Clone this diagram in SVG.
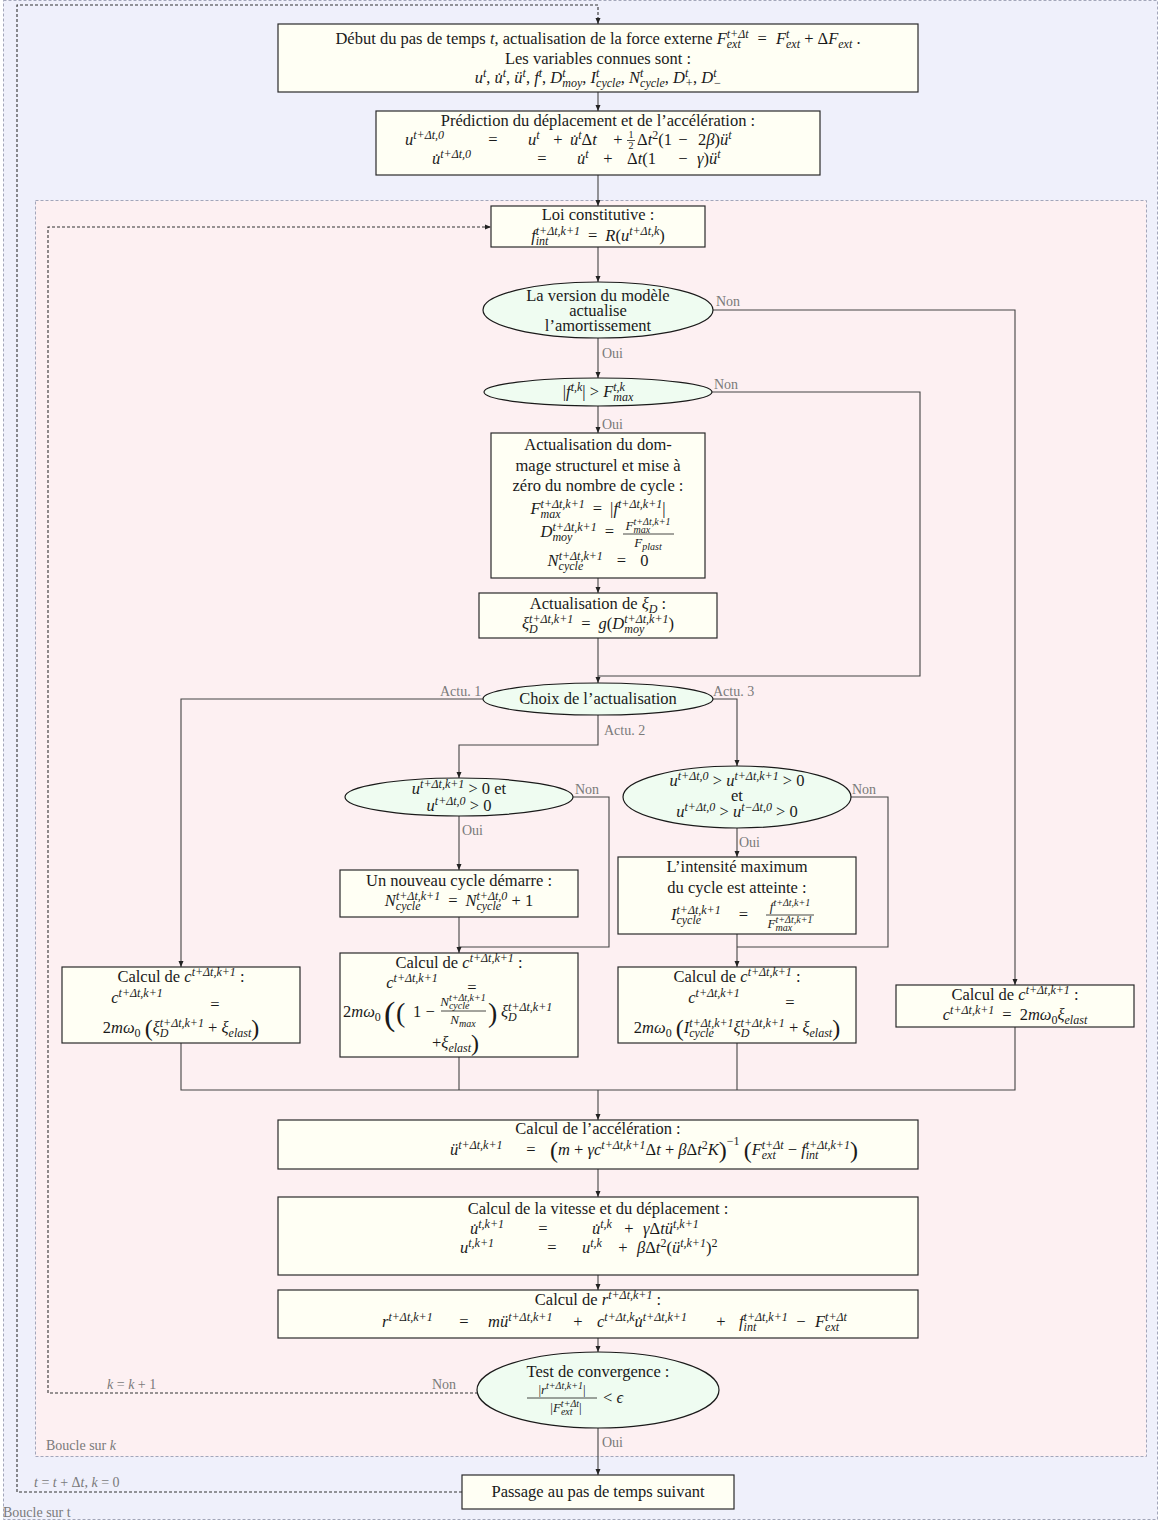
<svg xmlns="http://www.w3.org/2000/svg" width="1160" height="1521" viewBox="0 0 1160 1521">
<defs>
<style>
text{font-family:"Liberation Serif","DejaVu Serif",serif;font-size:16.5px;fill:#1a1a1a;text-anchor:middle}
.st{text-anchor:start}
.en{text-anchor:end}
.i{font-style:italic}
.p{font-size:12px;font-style:italic;baseline-shift:6px}
.s{font-size:12px;font-style:italic;baseline-shift:-4px}
.pu{font-size:12px;font-style:normal;baseline-shift:6px}
.su{font-size:12px;font-style:normal;baseline-shift:-4px}
.sm{font-size:13px}
.fp{font-size:10px;font-style:italic;baseline-shift:5px}
.fs{font-size:10px;font-style:italic;baseline-shift:-3px}
.bp{font-size:24px;font-style:normal;baseline-shift:-3px}
.lb{font-size:14px;fill:#7a7a7a;text-anchor:start}
.reg{fill:#eff0fb;stroke:#a3a6ba;stroke-width:1;stroke-dasharray:3 2}
.regk{fill:#fdf0f2;stroke:#a3a6ba;stroke-width:1;stroke-dasharray:3 2}
.box{fill:#fffff4;stroke:#2a2a2a;stroke-width:1.2}
.ell{fill:#effcf1;stroke:#1a1a1a;stroke-width:1.2}
.c{fill:none;stroke:#444;stroke-width:1.1}
.ca{fill:none;stroke:#444;stroke-width:1.1;marker-end:url(#ah)}
.dl{fill:none;stroke:#333;stroke-width:1.1;stroke-dasharray:3 2;marker-end:url(#ah)}
.fb{stroke:#1a1a1a;stroke-width:0.8}
</style>
<marker id="ah" markerUnits="userSpaceOnUse" markerWidth="6" markerHeight="6" viewBox="0 0 6 6" refX="6" refY="3" orient="auto"><path d="M0,0.5 L6,3 L0,5.5 z" fill="#222"/></marker>
</defs>

<g id="regions">
<rect class="reg" x="3.5" y="0.5" width="1154" height="1519"/>
<text class="lb" x="3" y="1517">Boucle sur t</text>
<rect class="regk" x="35.5" y="200.5" width="1111" height="1256"/>
<text class="lb" x="46" y="1450">Boucle sur <tspan class="i">k</tspan></text>
</g>

<g id="connectors">
<path class="dl" d="M462,1492 H17 V5 H598 V24"/>
<path class="ca" d="M598,92 V111"/>
<path class="ca" d="M598,175 V206"/>
<path class="ca" d="M598,247 V282"/>
<path class="ca" d="M713,310 H1015 V985"/>
<path class="ca" d="M598,338 V378"/>
<path class="c" d="M712,392 H920 V676 H598"/>
<path class="ca" d="M598,406 V433"/>
<path class="ca" d="M598,578 V593"/>
<path class="ca" d="M598,638 V683"/>
<path class="ca" d="M483,699 H181 V967"/>
<path class="ca" d="M712,699 H737 V766"/>
<path class="ca" d="M598,715 V745 H459 V778"/>
<path class="ca" d="M459,816 V870"/>
<path class="c" d="M573,797 H609 V947 H459"/>
<path class="ca" d="M459,917 V953"/>
<path class="ca" d="M737,828 V857"/>
<path class="c" d="M851,797 H888 V947 H737"/>
<path class="ca" d="M737,934 V967"/>
<path class="c" d="M181,1043 V1090 H1015 V1027"/>
<path class="c" d="M459,1057 V1090"/>
<path class="c" d="M737,1043 V1090"/>
<path class="ca" d="M598,1090 V1120"/>
<path class="ca" d="M598,1169 V1197"/>
<path class="ca" d="M598,1275 V1290"/>
<path class="ca" d="M598,1338 V1352"/>
<path class="dl" d="M478,1393 H48 V227 H491"/>
<path class="ca" d="M598,1428 V1475"/>
<text class="lb" x="716" y="306">Non</text>
<text class="lb" x="602" y="358">Oui</text>
<text class="lb" x="714" y="389">Non</text>
<text class="lb" x="602" y="429">Oui</text>
<text class="lb" x="440" y="696">Actu. 1</text>
<text class="lb" x="713" y="696">Actu. 3</text>
<text class="lb" x="604" y="735">Actu. 2</text>
<text class="lb" x="575" y="794">Non</text>
<text class="lb" x="462" y="835">Oui</text>
<text class="lb" x="852" y="794">Non</text>
<text class="lb" x="739" y="847">Oui</text>
<text class="lb" x="107" y="1389"><tspan class="i">k</tspan> = <tspan class="i">k</tspan> + 1</text>
<text class="lb" x="432" y="1389">Non</text>
<text class="lb" x="602" y="1447">Oui</text>
<text class="lb" x="34" y="1487"><tspan class="i">t</tspan> = <tspan class="i">t</tspan> + Δ<tspan class="i">t</tspan>, <tspan class="i">k</tspan> = 0</text>
</g>

<g id="n-debut">
<rect class="box" x="278" y="24" width="640" height="68"/>
<text x="598" y="44">Début du pas de temps <tspan class="i">t</tspan>, actualisation de la force externe <tspan class="i">F</tspan><tspan class="s">ext</tspan><tspan class="p" dx="-14">t+Δt</tspan><tspan dx="9">=</tspan><tspan class="i" dx="9">F</tspan><tspan class="p">t</tspan><tspan class="s" dx="-3.3">ext</tspan> + Δ<tspan class="i">F</tspan><tspan class="s">ext</tspan> .</text>
<text x="598" y="64">Les variables connues sont :</text>
<text x="598" y="83"><tspan class="i">u</tspan><tspan class="p">t</tspan>, <tspan class="i">u&#x307;</tspan><tspan class="p">t</tspan>, <tspan class="i">ü</tspan><tspan class="p">t</tspan>, <tspan class="i">f</tspan><tspan class="p">t</tspan>, <tspan class="i">D</tspan><tspan class="p">t</tspan><tspan class="s" dx="-3.3">moy</tspan>, <tspan class="i">I</tspan><tspan class="p">t</tspan><tspan class="s" dx="-3.3">cycle</tspan>, <tspan class="i">N</tspan><tspan class="p">t</tspan><tspan class="s" dx="-3.3">cycle</tspan>, <tspan class="i">D</tspan><tspan class="p">t</tspan><tspan class="s" dx="-3.3">+</tspan>, <tspan class="i">D</tspan><tspan class="p">t</tspan><tspan class="s" dx="-3.3">−</tspan></text>
</g>

<g id="n-prediction">
<rect class="box" x="376" y="111" width="444" height="64"/>
<text x="598" y="126">Prédiction du déplacement et de l’accélération :</text>
<text class="st" x="405" y="145"><tspan class="i">u</tspan><tspan class="p">t+Δt,0</tspan></text>
<text x="493" y="145">=</text>
<text class="st" x="528" y="145"><tspan class="i">u</tspan><tspan class="p">t</tspan></text>
<text x="558" y="145">+</text>
<text class="st" x="570" y="145"><tspan class="i">u&#x307;</tspan><tspan class="p">t</tspan>Δ<tspan class="i">t</tspan></text>
<text x="618" y="145">+</text>
<text x="631" y="138" style="font-size:10px">1</text>
<line class="fb" x1="627" y1="140.5" x2="635" y2="140.5"/>
<text x="631" y="149" style="font-size:10px">2</text>
<text class="st" x="637" y="145">Δ<tspan class="i">t</tspan><tspan class="pu">2</tspan>(1</text>
<text x="683" y="145">−</text>
<text class="st" x="698" y="145">2<tspan class="i">β</tspan>)<tspan class="i">ü</tspan><tspan class="p">t</tspan></text>
<text class="st" x="432" y="164"><tspan class="i">u&#x307;</tspan><tspan class="p">t+Δt,0</tspan></text>
<text x="542" y="164">=</text>
<text class="st" x="577" y="164"><tspan class="i">u&#x307;</tspan><tspan class="p">t</tspan></text>
<text x="608" y="164">+</text>
<text class="st" x="627" y="164">Δ<tspan class="i">t</tspan>(1</text>
<text x="683" y="164">−</text>
<text class="st" x="697" y="164"><tspan class="i">γ</tspan>)<tspan class="i">ü</tspan><tspan class="p">t</tspan></text>
</g>

<g id="n-loi">
<rect class="box" x="491" y="206" width="214" height="41"/>
<text x="598" y="220">Loi constitutive :</text>
<text x="598" y="241"><tspan class="i">f</tspan><tspan class="s">int</tspan><tspan class="p" dx="-12.7">t+Δt,k+1</tspan><tspan dx="8">=</tspan><tspan class="i" dx="8">R</tspan>(<tspan class="i">u</tspan><tspan class="p">t+Δt,k</tspan>)</text>
</g>

<g id="n-version">
<ellipse class="ell" cx="598" cy="310" rx="115" ry="28"/>
<text x="598" y="301">La version du modèle</text>
<text x="598" y="316">actualise</text>
<text x="598" y="331">l’amortissement</text>
</g>

<g id="n-fmax">
<ellipse class="ell" cx="598" cy="392" rx="114" ry="14"/>
<text x="598" y="397">|<tspan class="i">f</tspan><tspan class="p">t,k</tspan>| &gt; <tspan class="i">F</tspan><tspan class="p">t,k</tspan><tspan class="s" dx="-11.7">max</tspan></text>
</g>

<g id="n-dommage">
<rect class="box" x="491" y="433" width="214" height="145"/>
<text x="598" y="450">Actualisation du dom-</text>
<text x="598" y="471">mage structurel et mise à</text>
<text x="598" y="491">zéro du nombre de cycle :</text>
<text x="598" y="514"><tspan class="i">F</tspan><tspan class="s">max</tspan><tspan class="p" dx="-20">t+Δt,k+1</tspan><tspan dx="8">=</tspan><tspan dx="8">|</tspan><tspan class="i">f</tspan><tspan class="p">t+Δt,k+1</tspan>|</text>
<text class="en" x="614" y="537"><tspan class="i">D</tspan><tspan class="s">moy</tspan><tspan class="p" dx="-20">t+Δt,k+1</tspan><tspan dx="8">=</tspan></text>
<text class="sm" x="648" y="530"><tspan class="i">F</tspan><tspan class="fs">max</tspan><tspan class="fp" dx="-16.7">t+Δt,k+1</tspan></text>
<line class="fb" x1="623" y1="534" x2="674" y2="534"/>
<text class="sm" x="648" y="547"><tspan class="i">F</tspan><tspan class="fs">plast</tspan></text>
<text x="598" y="566"><tspan class="i">N</tspan><tspan class="s">cycle</tspan><tspan class="p" dx="-24.6">t+Δt,k+1</tspan><tspan dx="14">=</tspan><tspan dx="14">0</tspan></text>
</g>

<g id="n-xid">
<rect class="box" x="479" y="593" width="238" height="45"/>
<text x="598" y="609">Actualisation de <tspan class="i">ξ</tspan><tspan class="s">D</tspan> :</text>
<text x="598" y="629"><tspan class="i">ξ</tspan><tspan class="s">D</tspan><tspan class="p" dx="-8.7">t+Δt,k+1</tspan><tspan dx="8">=</tspan><tspan class="i" dx="8">g</tspan>(<tspan class="i">D</tspan><tspan class="s">moy</tspan><tspan class="p" dx="-20">t+Δt,k+1</tspan>)</text>
</g>

<g id="n-choix">
<ellipse class="ell" cx="598" cy="699" rx="115" ry="16"/>
<text x="598" y="704">Choix de l’actualisation</text>
</g>

<g id="n-test2">
<ellipse class="ell" cx="459" cy="797" rx="114" ry="19"/>
<text x="459" y="794"><tspan class="i">u</tspan><tspan class="p">t+Δt,k+1</tspan> &gt; 0 et</text>
<text x="459" y="811"><tspan class="i">u</tspan><tspan class="p">t+Δt,0</tspan> &gt; 0</text>
</g>

<g id="n-test3">
<ellipse class="ell" cx="737" cy="797" rx="114" ry="31"/>
<text x="737" y="786"><tspan class="i">u</tspan><tspan class="p">t+Δt,0</tspan> &gt; <tspan class="i">u</tspan><tspan class="p">t+Δt,k+1</tspan> &gt; 0</text>
<text x="737" y="801">et</text>
<text x="737" y="817"><tspan class="i">u</tspan><tspan class="p">t+Δt,0</tspan> &gt; <tspan class="i">u</tspan><tspan class="p">t−Δt,0</tspan> &gt; 0</text>
</g>

<g id="n-nouveau">
<rect class="box" x="340" y="870" width="238" height="47"/>
<text x="459" y="886">Un nouveau cycle démarre :</text>
<text x="459" y="906"><tspan class="i">N</tspan><tspan class="s">cycle</tspan><tspan class="p" dx="-24.6">t+Δt,k+1</tspan><tspan dx="8">=</tspan><tspan class="i" dx="8">N</tspan><tspan class="s">cycle</tspan><tspan class="p" dx="-24.6">t+Δt,0</tspan> + 1</text>
</g>

<g id="n-intensite">
<rect class="box" x="618" y="857" width="238" height="77"/>
<text x="737" y="872">L’intensité maximum</text>
<text x="737" y="893">du cycle est atteinte :</text>
<text class="en" x="748" y="920"><tspan class="i">I</tspan><tspan class="s">cycle</tspan><tspan class="p" dx="-24.6">t+Δt,k+1</tspan><tspan dx="18">=</tspan></text>
<text class="sm" x="790" y="911"><tspan class="i">f</tspan><tspan class="fp">t+Δt,k+1</tspan></text>
<line class="fb" x1="766" y1="915" x2="814" y2="915"/>
<text class="sm" x="790" y="928"><tspan class="i">F</tspan><tspan class="fs">max</tspan><tspan class="fp" dx="-16.7">t+Δt,k+1</tspan></text>
</g>

<g id="n-calc1">
<rect class="box" x="62" y="967" width="238" height="76"/>
<text x="181" y="982">Calcul de <tspan class="i">c</tspan><tspan class="p">t+Δt,k+1</tspan> :</text>
<text x="137" y="1003"><tspan class="i">c</tspan><tspan class="p">t+Δt,k+1</tspan></text>
<text x="215" y="1010">=</text>
<text x="181" y="1033">2<tspan class="i">mω</tspan><tspan class="su">0</tspan> <tspan class="bp">(</tspan><tspan class="i">ξ</tspan><tspan class="s">D</tspan><tspan class="p" dx="-8.7">t+Δt,k+1</tspan> + <tspan class="i">ξ</tspan><tspan class="s">elast</tspan><tspan class="bp">)</tspan></text>
</g>

<g id="n-calc2">
<rect class="box" x="340" y="953" width="238" height="104"/>
<text x="459" y="968">Calcul de <tspan class="i">c</tspan><tspan class="p">t+Δt,k+1</tspan> :</text>
<text x="412" y="988"><tspan class="i">c</tspan><tspan class="p">t+Δt,k+1</tspan></text>
<text x="472" y="993">=</text>
<text class="st" x="343" y="1017">2<tspan class="i">mω</tspan><tspan class="su">0</tspan></text>
<text class="st" x="384" y="1025" style="font-size:34px">(</text>
<text class="st" x="396" y="1022" style="font-size:28px">(</text>
<text class="st" x="413" y="1017">1 −</text>
<text class="sm" x="463" y="1006"><tspan class="i">N</tspan><tspan class="fs">cycle</tspan><tspan class="fp" dx="-20.5">t+Δt,k+1</tspan></text>
<line class="fb" x1="441" y1="1011" x2="486" y2="1011"/>
<text class="sm" x="463" y="1024"><tspan class="i">N</tspan><tspan class="fs">max</tspan></text>
<text class="st" x="488" y="1022" style="font-size:28px">)</text>
<text class="st" x="501" y="1017"><tspan class="i">ξ</tspan><tspan class="s">D</tspan><tspan class="p" dx="-8.7">t+Δt,k+1</tspan></text>
<text class="st" x="432" y="1048">+<tspan class="i">ξ</tspan><tspan class="s">elast</tspan><tspan class="bp">)</tspan></text>
</g>

<g id="n-calc3">
<rect class="box" x="618" y="967" width="238" height="76"/>
<text x="737" y="982">Calcul de <tspan class="i">c</tspan><tspan class="p">t+Δt,k+1</tspan> :</text>
<text x="714" y="1003"><tspan class="i">c</tspan><tspan class="p">t+Δt,k+1</tspan></text>
<text x="790" y="1008">=</text>
<text x="737" y="1033">2<tspan class="i">mω</tspan><tspan class="su">0</tspan> <tspan class="bp">(</tspan><tspan class="i">I</tspan><tspan class="s">cycle</tspan><tspan class="p" dx="-24.6">t+Δt,k+1</tspan><tspan class="i">ξ</tspan><tspan class="s">D</tspan><tspan class="p" dx="-8.7">t+Δt,k+1</tspan> + <tspan class="i">ξ</tspan><tspan class="s">elast</tspan><tspan class="bp">)</tspan></text>
</g>

<g id="n-calc4">
<rect class="box" x="896" y="985" width="238" height="42"/>
<text x="1015" y="1000">Calcul de <tspan class="i">c</tspan><tspan class="p">t+Δt,k+1</tspan> :</text>
<text x="1015" y="1020"><tspan class="i">c</tspan><tspan class="p">t+Δt,k+1</tspan><tspan dx="8">=</tspan><tspan dx="8">2</tspan><tspan class="i">mω</tspan><tspan class="su">0</tspan><tspan class="i">ξ</tspan><tspan class="s">elast</tspan></text>
</g>

<g id="n-acceleration">
<rect class="box" x="278" y="1120" width="640" height="49"/>
<text x="598" y="1134">Calcul de l’accélération :</text>
<text class="st" x="450" y="1155"><tspan class="i">ü</tspan><tspan class="p">t+Δt,k+1</tspan></text>
<text x="531" y="1155">=</text>
<text class="st" x="550" y="1155"><tspan class="bp">(</tspan><tspan class="i">m</tspan> + <tspan class="i">γc</tspan><tspan class="p">t+Δt,k+1</tspan>Δ<tspan class="i">t</tspan> + <tspan class="i">β</tspan>Δ<tspan class="i">t</tspan><tspan class="pu">2</tspan><tspan class="i">K</tspan><tspan class="bp">)</tspan><tspan class="pu" style="baseline-shift:10px">−1</tspan> <tspan class="bp">(</tspan><tspan class="i">F</tspan><tspan class="s">ext</tspan><tspan class="p" dx="-14">t+Δt</tspan> − <tspan class="i">f</tspan><tspan class="s">int</tspan><tspan class="p" dx="-12.7">t+Δt,k+1</tspan><tspan class="bp">)</tspan></text>
</g>

<g id="n-vitesse">
<rect class="box" x="278" y="1197" width="640" height="78"/>
<text x="598" y="1214">Calcul de la vitesse et du déplacement :</text>
<text class="st" x="470" y="1234"><tspan class="i">u&#x307;</tspan><tspan class="p">t,k+1</tspan></text>
<text x="543" y="1234">=</text>
<text class="st" x="592" y="1234"><tspan class="i">u&#x307;</tspan><tspan class="p">t,k</tspan></text>
<text x="629" y="1234">+</text>
<text class="st" x="643" y="1234"><tspan class="i">γ</tspan>Δ<tspan class="i">tü</tspan><tspan class="p">t,k+1</tspan></text>
<text class="st" x="460" y="1253"><tspan class="i">u</tspan><tspan class="p">t,k+1</tspan></text>
<text x="552" y="1253">=</text>
<text class="st" x="582" y="1253"><tspan class="i">u</tspan><tspan class="p">t,k</tspan></text>
<text x="623" y="1253">+</text>
<text class="st" x="637" y="1253"><tspan class="i">β</tspan>Δ<tspan class="i">t</tspan><tspan class="pu">2</tspan>(<tspan class="i">ü</tspan><tspan class="p">t,k+1</tspan>)<tspan class="pu">2</tspan></text>
</g>

<g id="n-residu">
<rect class="box" x="278" y="1290" width="640" height="48"/>
<text x="598" y="1305">Calcul de <tspan class="i">r</tspan><tspan class="p">t+Δt,k+1</tspan> :</text>
<text class="st" x="382" y="1327"><tspan class="i">r</tspan><tspan class="p">t+Δt,k+1</tspan></text>
<text x="464" y="1327">=</text>
<text class="st" x="488" y="1327"><tspan class="i">mü</tspan><tspan class="p">t+Δt,k+1</tspan></text>
<text x="578" y="1327">+</text>
<text class="st" x="597" y="1327"><tspan class="i">c</tspan><tspan class="p">t+Δt,k</tspan><tspan class="i">u&#x307;</tspan><tspan class="p">t+Δt,k+1</tspan></text>
<text x="721" y="1327">+</text>
<text class="st" x="739" y="1327"><tspan class="i">f</tspan><tspan class="s">int</tspan><tspan class="p" dx="-12.7">t+Δt,k+1</tspan></text>
<text x="801" y="1327">−</text>
<text class="st" x="815" y="1327"><tspan class="i">F</tspan><tspan class="s">ext</tspan><tspan class="p" dx="-14">t+Δt</tspan></text>
</g>

<g id="n-convergence">
<ellipse class="ell" cx="598" cy="1390" rx="121" ry="38"/>
<text x="598" y="1377">Test de convergence :</text>
<text class="sm" x="562" y="1394">|<tspan class="i">r</tspan><tspan class="fp">t+Δt,k+1</tspan>|</text>
<line class="fb" x1="527" y1="1398" x2="597" y2="1398"/>
<text class="sm" x="566" y="1412">|<tspan class="i">F</tspan><tspan class="fs">ext</tspan><tspan class="fp" dx="-11.7">t+Δt</tspan>|</text>
<text class="st" x="603" y="1403">&lt; <tspan class="i">ϵ</tspan></text>
</g>

<g id="n-passage">
<rect class="box" x="462" y="1475" width="272" height="34"/>
<text x="598" y="1497">Passage au pas de temps suivant</text>
</g>
</svg>
